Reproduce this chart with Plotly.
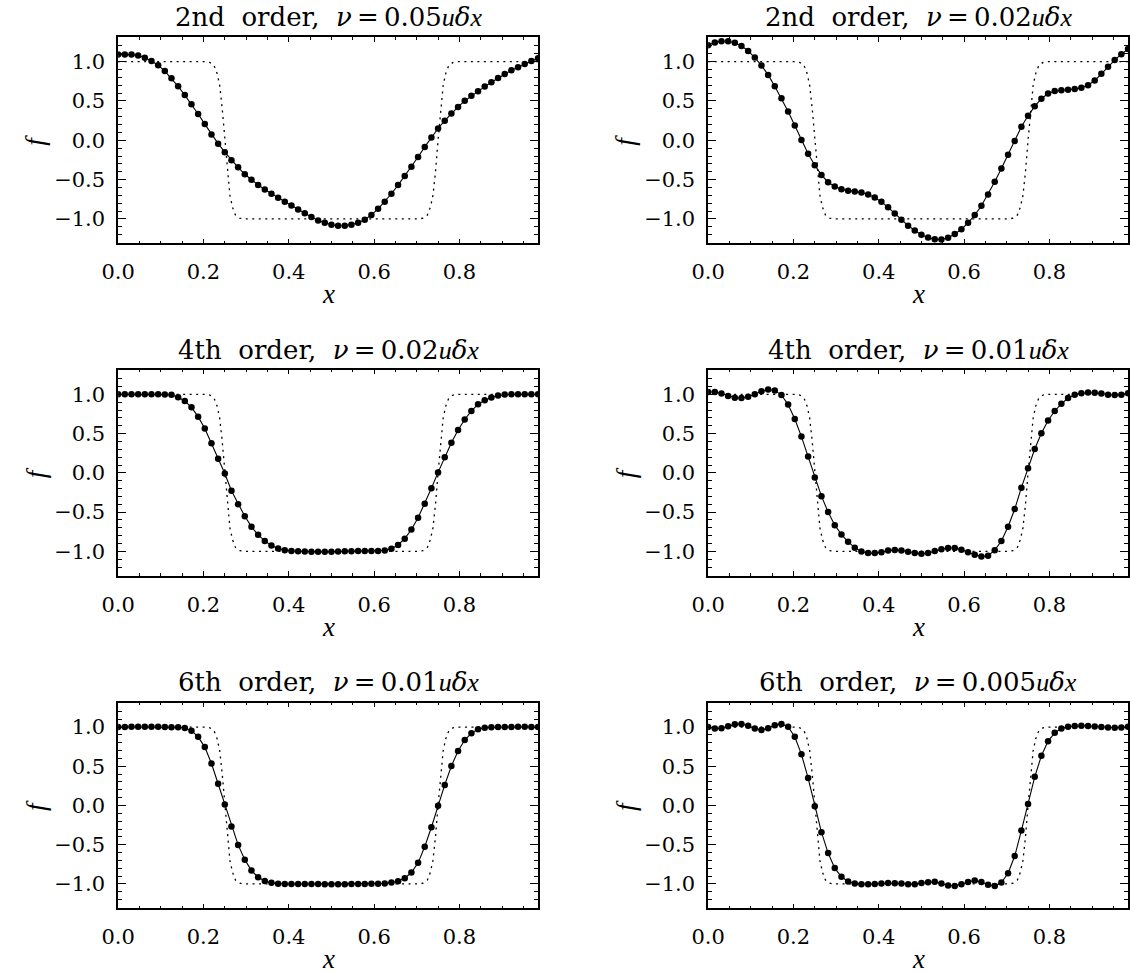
import numpy as np
import plotly.graph_objects as go

# ---------------- data ----------------
N = 64
x_grid = np.arange(N) / N  # grid points x_i = i/64

# initial (dotted) profile
x_init = [0.0, 0.205, 0.215, 0.225, 0.232, 0.238, 0.244, 0.25, 0.256, 0.262, 0.268, 0.275, 0.285, 0.295,
          0.705, 0.715, 0.725, 0.732, 0.738, 0.744, 0.75, 0.756, 0.762, 0.768, 0.775, 0.785, 0.795, 0.984375]
f_init = [1.0, 1.0, 0.99, 0.95, 0.85, 0.70, 0.40, 0.0, -0.40, -0.70, -0.85, -0.95, -0.99, -1.0,
          -1.0, -0.99, -0.95, -0.85, -0.70, -0.40, 0.0, 0.40, 0.70, 0.85, 0.95, 0.99, 1.0, 1.0]

f_2nd_005 = [1.09, 1.09, 1.09, 1.08, 1.05, 1.008, 0.955, 0.880, 0.788, 0.687, 0.575, 0.460, 0.334, 0.206,
             0.075, -0.043, -0.151, -0.254, -0.343, -0.432, -0.503, -0.567, -0.625, -0.679, -0.732, -0.780,
             -0.830, -0.881, -0.928, -0.975, -1.019, -1.050, -1.074, -1.086, -1.087, -1.073, -1.048, -1.010,
             -0.949, -0.872, -0.781, -0.680, -0.570, -0.455, -0.335, -0.212, -0.084, 0.035, 0.150, 0.250,
             0.342, 0.425, 0.502, 0.566, 0.625, 0.683, 0.739, 0.793, 0.844, 0.89, 0.93, 0.97, 1.01, 1.045]

f_2nd_002 = [1.21, 1.244, 1.26, 1.26, 1.24, 1.20, 1.137, 1.052, 0.952, 0.832, 0.687, 0.536, 0.367, 0.189,
             0.004, -0.172, -0.318, -0.440, -0.533, -0.589, -0.624, -0.641, -0.650, -0.665, -0.690, -0.727,
             -0.783, -0.853, -0.932, -1.009, -1.086, -1.148, -1.202, -1.237, -1.259, -1.262, -1.239, -1.193,
             -1.131, -1.049, -0.951, -0.833, -0.689, -0.527, -0.358, -0.185, -0.008, 0.172, 0.312, 0.432,
             0.529, 0.595, 0.626, 0.638, 0.644, 0.652, 0.668, 0.700, 0.76, 0.845, 0.935, 1.02, 1.095, 1.16]

f_4th_002 = [1.0, 1.0, 1.0, 1.0, 1.0, 1.0, 1.0, 0.998, 0.995, 0.963, 0.915, 0.834, 0.716, 0.564,
             0.378, 0.179, -0.009, -0.227, -0.400, -0.552, -0.685, -0.790, -0.867, -0.925, -0.963, -0.986,
             -0.996, -1.0, -1.003, -1.005, -1.006, -1.006, -1.005, -1.003, -1.0, -0.997, -0.995, -0.995,
             -0.995, -0.995, -0.988, -0.967, -0.919, -0.838, -0.721, -0.572, -0.395, -0.197, 0.006, 0.199,
             0.383, 0.545, 0.680, 0.788, 0.873, 0.925, 0.961, 0.985, 0.997, 1.0, 1.0, 1.0, 1.0, 1.0]

f_4th_001 = [1.03, 1.03, 1.01, 0.98, 0.958, 0.953, 0.97, 1.0, 1.04, 1.062, 1.05, 0.991, 0.869, 0.686,
             0.462, 0.207, -0.058, -0.297, -0.500, -0.666, -0.785, -0.879, -0.953, -1.002, -1.022, -1.022,
             -1.01, -0.99, -0.984, -0.988, -1.005, -1.021, -1.03, -1.022, -0.995, -0.974, -0.957, -0.958,
             -0.978, -1.01, -1.043, -1.064, -1.055, -0.985, -0.869, -0.686, -0.461, -0.189, 0.058, 0.303,
             0.504, 0.667, 0.788, 0.879, 0.953, 0.995, 1.015, 1.022, 1.02, 1.01, 0.995, 0.99, 0.995, 1.015]

f_6th_001 = [1.0, 1.0, 1.002, 1.004, 1.005, 1.004, 1.002, 1.0, 0.998, 0.997, 0.988, 0.954, 0.875, 0.744,
             0.535, 0.277, 0.014, -0.269, -0.502, -0.690, -0.829, -0.914, -0.961, -0.986, -0.996, -1.0,
             -1.0, -1.0, -1.0, -1.001, -1.001, -1.002, -1.002, -1.002, -1.002, -1.001, -1.0, -1.0,
             -0.998, -0.996, -0.993, -0.982, -0.966, -0.926, -0.854, -0.731, -0.525, -0.277, -0.002, 0.262,
             0.504, 0.695, 0.834, 0.922, 0.972, 0.992, 0.998, 1.0, 1.0, 1.001, 1.002, 1.002, 1.001, 1.0]

f_6th_0005 = [1.0, 0.98, 0.984, 1.01, 1.034, 1.038, 1.016, 0.98, 0.962, 0.983, 1.024, 1.04, 1.002, 0.876,
              0.652, 0.35, -0.011, -0.340, -0.606, -0.798, -0.908, -0.969, -0.995, -1.002, -1.002, -1.0,
              -0.995, -0.989, -0.99, -0.995, -1.002, -1.002, -0.989, -0.978, -0.973, -0.993, -1.02, -1.026,
              -1.005, -0.975, -0.955, -0.975, -1.01, -1.027, -0.982, -0.864, -0.644, -0.32, 0.020, 0.366,
              0.633, 0.820, 0.926, 0.98, 1.005, 1.013, 1.015, 1.013, 1.008, 1.0, 0.993, 0.99, 0.995, 1.005]

orders = ["2nd", "2nd", "4th", "4th", "6th", "6th"]
nu_values = ["0.05", "0.02", "0.02", "0.01", "0.01", "0.005"]
series = [f_2nd_005, f_2nd_002, f_4th_002, f_4th_001, f_6th_001, f_6th_0005]


def it(s):
    # Latin italic letters
    return "<i><span style=\"font-family:Liberation Serif\">" + s + "</span></i>"


def gk(s):
    # Greek italic letters
    return "<i>" + s + "</i>"


titles = [o + "\u00a0 order,\u00a0 " + gk("\u03bd") + "\u2009=\u2009" + v + it("u") + gk("\u03b4") + it("x")
          for o, v in zip(orders, nu_values)]

# ---------------- layout ----------------
W, H = 1130, 974
col_px = [(102.7, 529.0), (701.7, 1128.0)]
row_px = [(37.3, 243.3), (370.0, 575.7), (702.7, 908.3)]
FONT = "DejaVu Serif"

fig = go.Figure()
annotations = []
layout = dict(width=W, height=H, margin=dict(l=0, r=0, t=0, b=0), autosize=False,
              paper_bgcolor="white", plot_bgcolor="white", showlegend=False,
              font=dict(family=FONT, color="black"))

for k in range(6):
    r, c = divmod(k, 2)
    l, rr = col_px[c]
    t, b = row_px[r]
    xn = "x" if k == 0 else f"x{k+1}"
    yn = "y" if k == 0 else f"y{k+1}"
    xkey = "xaxis" if k == 0 else f"xaxis{k+1}"
    ykey = "yaxis" if k == 0 else f"yaxis{k+1}"

    layout[xkey] = dict(
        domain=[l / W, rr / W], anchor=yn, range=[0, 63 / 64],
        tick0=0, dtick=0.2, tickformat=".1f", ticks="inside", ticklen=4.5, tickwidth=1,
        tickcolor="black", showline=True, linewidth=1.6, linecolor="black", mirror="allticks",
        showgrid=False, zeroline=False, ticklabelstandoff=9,
        tickfont=dict(family=FONT, size=21, color="black"),
        minor=dict(dtick=0.05, tick0=0, ticks="inside", ticklen=2.5, tickwidth=1,
                   tickcolor="black", showgrid=False),
    )
    layout[ykey] = dict(
        domain=[1 - b / H, 1 - t / H], anchor=xn, range=[-1.31, 1.31],
        tick0=0, dtick=0.5, tickformat=".1f", ticks="inside", ticklen=8.5, tickwidth=1,
        tickcolor="black", showline=True, linewidth=1.6, linecolor="black", mirror="allticks",
        showgrid=False, zeroline=False, ticklabelstandoff=7,
        tickfont=dict(family=FONT, size=21, color="black"),
        minor=dict(dtick=0.1, tick0=0, ticks="inside", ticklen=4, tickwidth=1,
                   tickcolor="black", showgrid=False),
    )

    fig.add_trace(go.Scatter(x=x_init, y=f_init, mode="lines", xaxis=xn, yaxis=yn,
                             line=dict(color="black", width=1.3, dash="2px,4.5px"), hoverinfo="skip"))
    fig.add_trace(go.Scatter(x=x_grid, y=series[k], mode="lines+markers", xaxis=xn, yaxis=yn,
                             line=dict(color="black", width=1.1),
                             marker=dict(color="black", size=6.5)))

    cx = (l + rr) / 2
    annotations.append(dict(text=titles[k], x=cx / W, y=1 - (t - 20.5) / H, xref="paper", yref="paper",
                            xanchor="center", yanchor="middle", showarrow=False,
                            font=dict(family=FONT, size=26, color="black")))
    annotations.append(dict(text=it("x"), x=cx / W, y=1 - (b + 51) / H, xref="paper", yref="paper",
                            xanchor="center", yanchor="middle", showarrow=False,
                            font=dict(family=FONT, size=27, color="black")))
    annotations.append(dict(text=it("f"), x=(l - 84) / W, y=1 - ((t + b) / 2) / H, xref="paper",
                            yref="paper", xanchor="center", yanchor="middle", showarrow=False,
                            textangle=-90, font=dict(family=FONT, size=27, color="black")))

layout["annotations"] = annotations
fig.update_layout(**layout)
fig.write_html("out.html")
